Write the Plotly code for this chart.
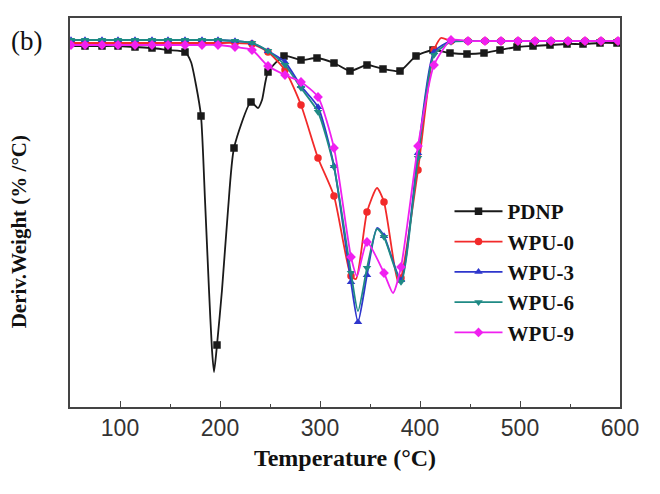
import plotly.graph_objects as go

# ---- data (Temperature in °C, derivative weight in arbitrary %/°C units) ----
grid_T = [51, 65, 82, 98, 115, 132, 148, 165, 182, 198, 215, 232, 248, 265, 281, 298, 314, 331,
          347, 364, 381, 398, 414, 431, 448, 465, 481, 498, 515, 531, 548, 565, 581, 598]

# PDNP
pdnp_T = [65, 82, 98, 115, 132, 148, 165, 181, 197, 214, 231, 248, 264, 281, 297, 314, 330, 347,
          363, 380, 396, 413, 430, 447, 464, 480, 497, 513, 530, 547, 563, 580, 597]
pdnp_Y = [-0.01, -0.01, -0.01, -0.02, -0.03, -0.05, -0.07, -0.71, -3.00, -1.03, -0.57, -0.27, -0.11,
          -0.15, -0.13, -0.18, -0.26, -0.20, -0.24, -0.26, -0.11, -0.05, -0.08, -0.09, -0.08, -0.05,
          -0.02, -0.01, 0.0, 0.01, 0.01, 0.02, 0.02]
pdnp_extra_T = [51, 171, 176, 185, 189, 192, 194, 202, 208, 238, 242]
pdnp_extra_Y = [-0.01, -0.17, -0.40, -1.55, -2.45, -3.05, -3.27, -2.45, -1.65, -0.63, -0.55]

# WPU-0
wpu0_T = grid_T
wpu0_Y = [0.02, 0.02, 0.02, 0.02, 0.02, 0.02, 0.02, 0.02, 0.02, 0.02, 0.02, 0.01, -0.07, -0.25,
          -0.60, -1.13, -1.51, -2.31, -1.67, -1.57, -2.33, -1.25, -0.05, 0.04, 0.04, 0.04, 0.04,
          0.04, 0.04, 0.04, 0.04, 0.04, 0.04, 0.04]
wpu0_extra_T = [336, 357, 378, 421]
wpu0_extra_Y = [-2.34, -1.43, -2.37, 0.07]

# WPU-3
wpu3_T = grid_T[:18] + [338] + grid_T[18:]
wpu3_Y = [0.05, 0.05, 0.05, 0.05, 0.05, 0.05, 0.05, 0.05, 0.05, 0.05, 0.04, 0.02, -0.06, -0.17,
          -0.41, -0.62, -1.21, -2.37, -2.77, -2.30, -1.91, -2.35, -1.08, -0.07, 0.04, 0.04, 0.04,
          0.04, 0.04, 0.04, 0.04, 0.04, 0.04, 0.04, 0.04]
wpu3_extra_T = [357]
wpu3_extra_Y = [-1.83]

# WPU-6
wpu6_T = grid_T
wpu6_Y = [0.05, 0.05, 0.05, 0.05, 0.05, 0.05, 0.05, 0.05, 0.05, 0.05, 0.04, 0.02, -0.06, -0.20,
          -0.43, -0.67, -1.22, -2.28, -2.23, -1.92, -2.37, -1.13, -0.10, 0.03, 0.04, 0.04, 0.04,
          0.04, 0.04, 0.04, 0.04, 0.04, 0.04, 0.04]
wpu6_extra_T = [338, 357]
wpu6_extra_Y = [-2.66, -1.84]

# WPU-9
wpu9_T = grid_T
wpu9_Y = [0.0, 0.0, 0.0, 0.0, 0.0, 0.0, 0.0, 0.0, 0.0, 0.0, -0.02, -0.05, -0.21, -0.30, -0.37,
          -0.52, -1.03, -2.12, -1.97, -2.28, -2.22, -1.01, -0.20, 0.05, 0.04, 0.04, 0.04, 0.04,
          0.04, 0.04, 0.04, 0.04, 0.04, 0.04]
wpu9_extra_T = [337, 373]
wpu9_extra_Y = [-2.31, -2.48]

series = [
    ("PDNP", pdnp_T, pdnp_Y, pdnp_extra_T, pdnp_extra_Y, "#1a1a1a", "square"),
    ("WPU-0", wpu0_T, wpu0_Y, wpu0_extra_T, wpu0_extra_Y, "#f22a2a", "circle"),
    ("WPU-3", wpu3_T, wpu3_Y, wpu3_extra_T, wpu3_extra_Y, "#2e36cc", "triangle-up"),
    ("WPU-6", wpu6_T, wpu6_Y, wpu6_extra_T, wpu6_extra_Y, "#1f8a85", "triangle-down"),
    ("WPU-9", wpu9_T, wpu9_Y, wpu9_extra_T, wpu9_extra_Y, "#f020f0", "diamond"),
]

fig = go.Figure()
for name, mT, mY, eT, eY, color, sym in series:
    pts = sorted(zip(list(mT) + list(eT), list(mY) + list(eY)))
    lx = [p[0] for p in pts]
    ly = [p[1] for p in pts]
    fig.add_trace(go.Scatter(x=lx, y=ly, mode="lines", showlegend=False,
                             line=dict(color=color, width=1.8, shape="spline", smoothing=0.6),
                             hoverinfo="skip"))
    fig.add_trace(go.Scatter(x=mT, y=mY, mode="markers", showlegend=False,
                             marker=dict(symbol=sym, size=7.5, color=color)))
    fig.add_trace(go.Scatter(x=[None], y=[None], mode="lines+markers", name=name,
                             line=dict(color=color, width=1.8),
                             marker=dict(symbol=sym, size=7.5, color=color)))

serif = "Liberation Serif, Times New Roman, serif"
sans = "Liberation Sans, Arial, sans-serif"

# page body has an 8px default margin, so the figure is sized/margined to compensate
fig.update_layout(
    width=652, height=486,
    margin=dict(l=62, r=40, t=10, b=87),
    paper_bgcolor="white", plot_bgcolor="white",
    showlegend=True,
    legend=dict(x=0.69, y=0.555, xanchor="left", yanchor="top",
                font=dict(family=serif, size=21, color="#111", weight="bold"),
                bgcolor="rgba(0,0,0,0)", itemwidth=48,
                traceorder="grouped", tracegroupgap=1),
    xaxis=dict(range=[50, 600], tick0=0, dtick=100, ticks="inside", ticklen=6, tickwidth=1.2,
               tickcolor="#444", showline=True, linecolor="#444", linewidth=1.5, mirror=True,
               showgrid=False, zeroline=False, automargin=False,
               tickfont=dict(family=sans, size=23, color="#333"),
               minor=dict(dtick=50, tick0=0, ticks="inside", ticklen=3, tickcolor="#444", showgrid=False),
               title=dict(text="<b>Temperature (°C)</b>", font=dict(family=serif, size=24, color="#111"),
                          standoff=9)),
    yaxis=dict(range=[-3.62, 0.27], showticklabels=False, ticks="", showline=True, linecolor="#444",
               linewidth=1.5, mirror=True, showgrid=False, zeroline=False, automargin=False),
    annotations=[
        dict(text="(b)", x=-0.079, y=0.94, xref="paper", yref="paper", showarrow=False,
             xanchor="center", yanchor="middle", font=dict(family=serif, size=27, color="#111")),
        dict(text="<b>Deriv.Weight (% /°C)</b>", x=-0.092, y=0.45, xref="paper", yref="paper",
             showarrow=False, textangle=-90, xanchor="center", yanchor="middle",
             font=dict(family=serif, size=21, color="#111")),
    ],
)

fig.write_html("out.html")
